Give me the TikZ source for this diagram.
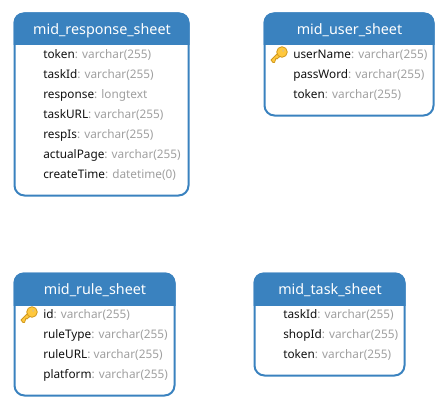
\documentclass[tikz,border=0pt]{standalone}
\usepackage{fontspec}
\setmainfont{Noto Sans}
\definecolor{tblue}{HTML}{3A82BF}
\definecolor{tgray}{HTML}{A0A0A0}
\definecolor{tblack}{HTML}{111111}
\definecolor{keyfill}{HTML}{FFC83D}
\definecolor{keyline}{HTML}{D0981C}
\tikzset{
  x=0.75pt,y=-0.75pt,
  tablebox/.style={draw=tblue,line width=1.5pt,rounded corners=7.5pt,fill=white},
  headbox/.style={fill=tblue,rounded corners=7.5pt},
  headtext/.style={text=white,font=\fontsize{10.75pt}{12pt}\selectfont,inner sep=0pt,anchor=base},
  rowtext/.style={text=tblack,font=\fontsize{8.85pt}{10pt}\selectfont,inner sep=0pt,anchor=base west},
  keyshape/.pic={
    \draw[keyline,fill=keyfill,line width=0.6pt,line join=round]
      (-11,8) -- (-3,0) -- (-0.5,3) -- (-5,7) -- (-6,6.2) -- (-7.5,10.5) -- (-9,10.5) -- cycle;
    \draw[keyline,fill=keyfill,line width=0.6pt] (0,0) circle[radius=5.3];
    \fill[keyline!60!white] (1.2,-1.2) circle[radius=1.2];
  }
}
\newcommand{\ty}[1]{{\color{tgray}#1}}
\newcommand{\erdtable}[7]{% name,x1,y1,x2,y2,title,titlebase
  \draw[tablebox] (#2,#3) rectangle (#4,#5);
  \begin{scope}
    \clip (#2-2,#3-2) rectangle (#4+2,#3+31.5);
    \fill[headbox] (#2-1,#3-1) rectangle (#4+1,#3+50);
  \end{scope}
  \node[headtext] (#1) at ({(#2+#4)/2+0.5},#7) {#6};
}
\begin{document}
\begin{tikzpicture}
\useasboundingbox (0,0) rectangle (448,410);
\erdtable{response}{14.5}{13.5}{188.5}{195.5}{mid\_response\_sheet}{34.5}
\node[rowtext] (r1) at (43,58) {token\ty{: varchar(255)}};
\node[rowtext] (r2) at (43,78) {taskId\ty{: varchar(255)}};
\node[rowtext] (r3) at (43,98) {response\ty{: longtext}};
\node[rowtext] (r4) at (43,118) {taskURL\ty{: varchar(255)}};
\node[rowtext] (r5) at (43,138) {respIs\ty{: varchar(255)}};
\node[rowtext] (r6) at (43,158) {actualPage\ty{: varchar(255)}};
\node[rowtext] (r7) at (43,178) {createTime\ty{: datetime(0)}};

\erdtable{user}{264.5}{13.5}{433.5}{115.5}{mid\_user\_sheet}{34.5}
\node[rowtext] (u1) at (293,58) {userName\ty{: varchar(255)}};
\node[rowtext] (u2) at (293,78) {passWord\ty{: varchar(255)}};
\node[rowtext] (u3) at (293,98) {token\ty{: varchar(255)}};
\pic at (282,52) {keyshape};

\erdtable{rule}{14.5}{273.5}{174.5}{395.5}{mid\_rule\_sheet}{294.5}
\node[rowtext] (a1) at (43,318) {id\ty{: varchar(255)}};
\node[rowtext] (a2) at (43,338) {ruleType\ty{: varchar(255)}};
\node[rowtext] (a3) at (43,358) {ruleURL\ty{: varchar(255)}};
\node[rowtext] (a4) at (43,378) {platform\ty{: varchar(255)}};
\pic at (32,312) {keyshape};

\erdtable{task}{254.5}{273.5}{404.5}{375.5}{mid\_task\_sheet}{294.5}
\node[rowtext] (t1) at (283,318) {taskId\ty{: varchar(255)}};
\node[rowtext] (t2) at (283,338) {shopId\ty{: varchar(255)}};
\node[rowtext] (t3) at (283,358) {token\ty{: varchar(255)}};
\end{tikzpicture}
\end{document}
